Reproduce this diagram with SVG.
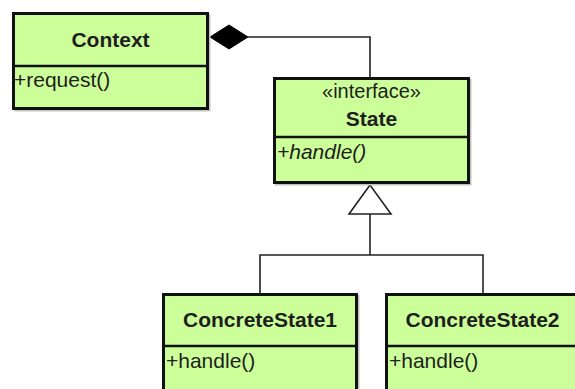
<svg xmlns="http://www.w3.org/2000/svg" width="575" height="389" viewBox="0 0 575 389">
  <style>
    .box { fill: #ccff99; stroke: #111; stroke-width: 3; }
    .shadow { fill: #c4c4c4; }
    .div { stroke: #111; stroke-width: 2.5; }
    .name { font-family: "Liberation Sans", Arial, sans-serif; font-size: 21px; font-weight: bold; fill: #1e1e1e; text-anchor: middle; }
    .stereo { font-family: "Liberation Sans", Arial, sans-serif; font-size: 20px; fill: #1e1e1e; text-anchor: middle; }
    .op { font-family: "Liberation Sans", Arial, sans-serif; font-size: 21px; fill: #1e1e1e; }
    .abstract { font-style: italic; }
    .line { fill: none; stroke: #222; stroke-width: 1.6; }
  </style>
  <rect width="575" height="389" fill="#ffffff"/>

  <g id="connectors">
    <!-- composition: Context owns State -->
    <polyline class="line" points="248,37 370,37 370,77"/>
    <polygon points="210,37 229,25 248,37 229,49" fill="#000" stroke="#000" stroke-width="1"/>
    <!-- generalization: concrete states realize State -->
    <polyline class="line" points="260,293 260,255 483,255 483,293"/>
    <line class="line" x1="370" y1="255" x2="370" y2="214"/>
    <polygon points="370,185 349,214 391,214" fill="#fff" stroke="#222" stroke-width="1.6"/>
  </g>

  <g id="context">
    <rect class="shadow" x="14" y="14" width="196.5" height="97.5"/>
    <rect class="box" x="13.5" y="13.5" width="194" height="95"/>
    <line class="div" x1="13.5" y1="66" x2="207.5" y2="66"/>
    <text class="name" x="110.5" y="47">Context</text>
    <text class="op" x="14" y="87">+request()</text>
  </g>

  <g id="state">
    <rect class="shadow" x="275" y="79" width="196.5" height="106.5"/>
    <rect class="box" x="274.5" y="78.5" width="194" height="104"/>
    <line class="div" x1="274.5" y1="137" x2="468.5" y2="137"/>
    <text class="stereo" x="371.5" y="98">«interface»</text>
    <text class="name" x="371.5" y="126">State</text>
    <text class="op abstract" x="277" y="159">+handle()</text>
  </g>

  <g id="concrete-state-1">
    <rect class="shadow" x="164" y="295" width="195.5" height="110"/>
    <rect class="box" x="163.5" y="294.5" width="193" height="110"/>
    <line class="div" x1="163.5" y1="346" x2="356.5" y2="346"/>
    <text class="name" x="260" y="327">ConcreteState1</text>
    <text class="op" x="166" y="368">+handle()</text>
  </g>

  <g id="concrete-state-2">
    <rect class="box" x="386.5" y="294.5" width="200" height="110"/>
    <line class="div" x1="386.5" y1="346" x2="586.5" y2="346"/>
    <text class="name" x="482.5" y="327">ConcreteState2</text>
    <text class="op" x="389" y="368">+handle()</text>
  </g>
</svg>
